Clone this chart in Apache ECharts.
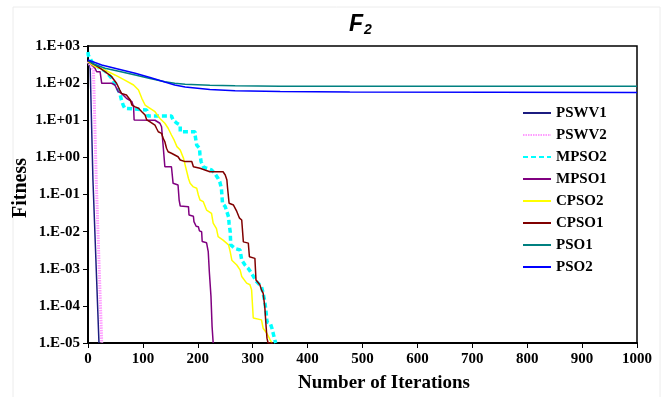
<!DOCTYPE html>
<html><head><meta charset="utf-8">
<script src="https://cdn.jsdelivr.net/npm/echarts@6/dist/echarts.min.js"></script>
<style>html,body{margin:0;padding:0;background:#fff}#c{width:670px;height:397px}</style>
</head><body><div id="c"></div>
<script>
const seriesNames = ['PSWV1','PSWV2','MPSO2','MPSO1','CPSO2','CPSO1','PSO1','PSO2'];
const xTickLabels = [0,100,200,300,400,500,600,700,800,900,1000];
const yTickLabels = ['1.E+03','1.E+02','1.E+01','1.E+00','1.E-01','1.E-02','1.E-03','1.E-04','1.E-05'];

const PSWV1_x = [0, 4, 9, 20];
const PSWV1_y = [400, 250, 0.25, 1e-5];

const PSWV2_x = [0, 4, 10, 15, 25];
const PSWV2_y = [380, 300, 220, 0.25, 1e-5];

const MPSO2_x = [0,0.5,3.6,7,13,31,43,52,55,58,61,64,67,70,107,109,152,155,162,168,168,195,195,198,203,204,206,210,216,225,231,237,240,243,245,250,256,257,259,260,268,277,280,286,292,298,301,307,316,319,322,324,326,332,335,338,341,342];
const MPSO2_y = [690,570,466,380,300,213,137,80,65,53,35,25.7,21,18.9,18.9,13,13,10.2,8.3,7.4,4.9,4.9,4.0,2.14,1.76,1.16,0.77,0.56,0.51,0.46,0.37,0.27,0.22,0.147,0.058,0.047,0.025,0.0166,0.01,0.0044,0.0035,0.0032,0.0017,0.00126,0.00102,7.5e-4,7.5e-4,4.5e-4,3.3e-4,2.2e-4,1.3e-4,7.8e-5,3.7e-5,3.4e-5,2.5e-5,1.66e-5,1.1e-5,1e-5];

const MPSO1_x = [0,12.8,15.8,22,25,43,49,52,55,61,70,80,83,84,122,131,134,137,140,152,155,164,166,168,183,184,192,193,197,201,203,207,208,216,219,221,224,226,228];
const MPSO1_y = [400,251,203,203,99,99,89,72,59,53,39,31.6,23,10.2,10,8.3,6.7,1.95,0.56,0.56,0.2,0.18,0.071,0.049,0.047,0.028,0.026,0.0186,0.014,0.0135,0.0105,0.0099,0.0054,0.005,0.0029,8.3e-4,1.8e-4,2.8e-5,1e-5];

const CPSO2_x = [0,13,31,49,67,83,92,98,104,113,122,131,140,146,152,157,162,168,174,177,180,183,186,192,198,201,204,210,216,225,228,234,237,246,256,259,262,271,277,280,283,289,295,298,301,316,319,326,332,335];
const CPSO2_y = [380,277,225,166,121,89,65,39,25.7,21,17,11.2,8.3,6.1,4.0,2.9,1.95,1.58,0.94,0.62,0.41,0.27,0.2,0.16,0.147,0.097,0.071,0.064,0.038,0.031,0.017,0.012,0.0073,0.0059,0.0044,0.0029,0.0017,0.00126,9.3e-4,6.2e-4,5.5e-4,4.1e-4,3.7e-4,2.7e-4,4.7e-5,4.2e-5,2.5e-5,1.8e-5,1.2e-5,1e-5];

const CPSO1_x = [0,13,31,43,52,58,61,70,77,80,86,92,98,104,107,113,122,125,128,134,137,140,143,146,152,158,164,168,177,189,192,204,207,222,246,250,253,254,257,265,271,276,280,283,292,294,304,306,313,316,319,322,324,326,328,337];
const CPSO1_y = [400,308,203,149,99,65,53,48,35,25.7,23,21,17,13.8,10.2,9.1,7.4,6.0,4.9,4.45,3.24,2.63,1.76,1.42,1.29,1.16,1.04,0.85,0.77,0.77,0.56,0.51,0.46,0.41,0.41,0.335,0.245,0.162,0.058,0.052,0.035,0.023,0.0205,0.0053,0.0049,0.0021,0.0019,5.0e-4,3.7e-4,2.7e-4,2.2e-4,9.5e-5,3.4e-5,1.35e-5,1e-5,1e-5];

const PSO1_x = [0, 10, 31, 58, 86, 113, 140, 158, 177, 222, 268, 350, 495, 1000];
const PSO1_y = [408, 327, 251, 206, 165, 133, 109, 99, 93, 88, 85, 83, 82, 82];

const PSO2_x = [0, 25, 58, 86, 113, 140, 158, 177, 222, 268, 350, 477, 1000];
const PSO2_y = [420, 308, 233, 184, 142, 107, 89, 79, 67, 62.6, 59.5, 57.6, 56];

const xs = [PSWV1_x, PSWV2_x, MPSO2_x, MPSO1_x, CPSO2_x, CPSO1_x, PSO1_x, PSO2_x];
const ys = [PSWV1_y, PSWV2_y, MPSO2_y, MPSO1_y, CPSO2_y, CPSO1_y, PSO1_y, PSO2_y];
const styles = [
  {color:'#1c1c80', width:1.5, type:'solid'},
  {color:'#ff9cff', width:3, type:[1.5,1]},
  {color:'#00ffff', width:3.5, type:[5,3]},
  {color:'#800080', width:1.5, type:'solid'},
  {color:'#ffff00', width:1.5, type:'solid'},
  {color:'#800000', width:1.5, type:'solid'},
  {color:'#008080', width:1.5, type:'solid'},
  {color:'#0000ff', width:1.5, type:'solid'}
];

function fmtY(v){
  const e = Math.round(Math.log10(v));
  const lbl = '1.E' + (e < 0 ? '-' : '+') + String(Math.abs(e)).padStart(2,'0');
  return yTickLabels.includes(lbl) ? lbl : '';
}

const serif = '"Liberation Serif","Times New Roman",serif';
const chart = echarts.init(document.getElementById('c'));
chart.setOption({
  animation: false,
  backgroundColor: '#fff',
  title: {
    text: '{f|F}{s|2}', left: 344, top: 8,
    textStyle: { rich: {
      f: {fontFamily:'"Liberation Sans",Arial,sans-serif', fontStyle:'italic', fontWeight:'bold', fontSize:23, color:'#000'},
      s: {fontFamily:'"Liberation Sans",Arial,sans-serif', fontStyle:'italic', fontWeight:'bold', fontSize:14, color:'#000', padding:[10,0,0,1]}
    }}
  },
  graphic: [
    {type:'rect', shape:{x:13, y:7, width:647, height:400}, style:{fill:'none', stroke:'#ececec', lineWidth:1}, silent:true},
    {type:'text', x:21, y:188, rotation:Math.PI/2, style:{text:'Fitness', font:'bold 20px '+serif, fill:'#000', align:'center', verticalAlign:'middle'}},
    {type:'text', x:384, y:383, style:{text:'Number of Iterations', font:'bold 19px '+serif, fill:'#000', align:'center', verticalAlign:'middle'}}
  ],
  grid: { left: 88, right: 33, top: 46, bottom: 54, show: true, borderColor: '#000', borderWidth: 1.5, backgroundColor:'transparent' },
  legend: {
    orient: 'vertical', left: 522, top: 105, padding: 0,
    itemWidth: 28, itemHeight: 14, itemGap: 6,
    itemStyle: {opacity: 0},
    data: seriesNames,
    textStyle: {fontFamily: serif, fontWeight: 'bold', fontSize: 15, color: '#000', lineHeight: 16}
  },
  xAxis: {
    type: 'value', min: xTickLabels[0], max: xTickLabels[xTickLabels.length-1], interval: 100,
    axisLine: {show:true, onZero:false, lineStyle:{color:'#000', width:2}},
    axisTick: {show:true, inside:false, length:5, lineStyle:{color:'#000', width:1}},
    axisLabel: {margin: 9, fontFamily: serif, fontWeight:'bold', fontSize:15, color:'#000', formatter: v => String(v)},
    splitLine: {show:false}
  },
  yAxis: {
    type: 'log', logBase: 10, min: 1e-5, max: 1e3, splitNumber: 8,
    axisLine: {show:true, lineStyle:{color:'#000', width:2}},
    axisTick: {show:true, inside:false, length:5, lineStyle:{color:'#000', width:1}},
    axisLabel: {margin: 8, fontFamily: serif, fontWeight:'bold', fontSize:15, color:'#000', formatter: fmtY},
    splitLine: {show:false}
  },
  series: seriesNames.map((n,i) => ({
    name: n, type: 'line', symbol: 'none', showSymbol: false,
    data: xs[i].map((x,j) => [x, ys[i][j]]),
    lineStyle: {color: styles[i].color, width: styles[i].width, type: styles[i].type},
    itemStyle: {color: styles[i].color},
    clip: true
  }))
});
</script>
</body></html>
